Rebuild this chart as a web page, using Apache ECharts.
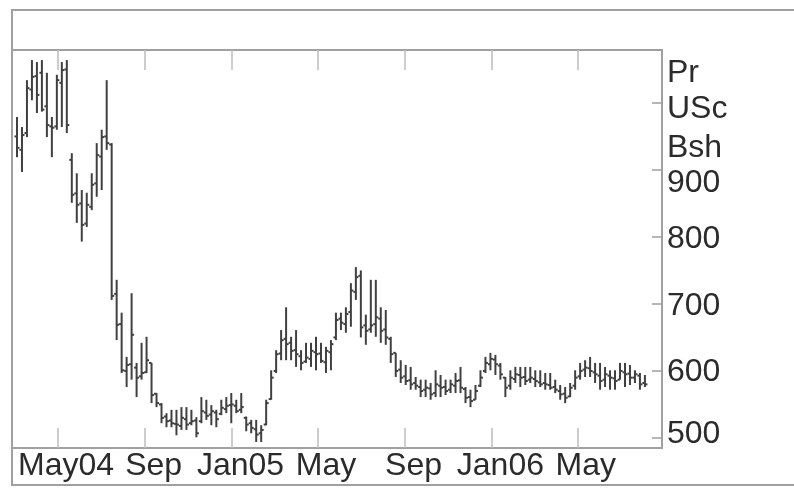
<!DOCTYPE html>
<html>
<head>
<meta charset="utf-8">
<script src="https://cdn.jsdelivr.net/npm/echarts@6/dist/echarts.min.js"></script>
<style>
  html, body { margin: 0; padding: 0; background: #fff; }
  #main { width: 794px; height: 489px; }
</style>
</head>
<body>
<div id="main"></div>
<script>
// weekly bars, first week ending 2004-03-05
var firstWeek = [2004, 2, 5];
var openP = [
  950,930,955,1020,1040,1045,995,965,965,1030,
  1050,915,865,850,820,845,880,920,950,938,
  715,670,600,610,605,592,598,612,566,550,
  532,526,521,518,528,522,526,525,538,535,
  538,536,543,549,548,542,530,522,513,507,
  520,558,600,626,648,642,631,622,614,618,
  628,626,613,628,650,678,670,688,718,742,
  668,662,670,678,662,648,627,602,592,586,
  582,576,572,574,567,578,576,572,578,586,
  573,561,557,578,600,610,617,608,590,578,
  588,594,591,587,588,583,582,579,576,570,
  566,562,578,592,602,604,598,593,587,593,
  589,587,598,596,590,593,582
];
var highP = [
  979,964,1034,1064,1061,1064,1045,979,1042,1061,
  1064,925,895,870,866,895,940,960,1034,940,
  736,687,621,716,612,642,651,612,567,552,
  537,542,542,546,546,542,531,561,557,549,
  542,557,561,567,557,567,532,527,527,519,
  557,601,631,661,695,651,661,631,642,642,
  651,642,636,646,687,687,695,731,755,750,
  684,736,736,695,691,651,627,616,609,606,
  591,587,587,582,601,594,587,587,597,606,
  576,572,579,601,621,627,624,612,591,601,
  606,606,606,606,601,601,597,597,587,579,
  576,582,601,612,616,621,612,612,606,601,
  601,612,612,609,601,597,594
];
var lowP = [
  919,897,949,1004,985,987,949,919,960,964,
  955,851,821,793,815,840,860,870,930,706,
  646,597,576,587,561,587,597,552,546,522,
  516,516,504,512,512,519,501,522,527,519,
  516,534,537,522,537,537,510,507,494,494,
  519,557,597,616,616,616,606,601,612,606,
  601,612,597,601,646,661,657,666,706,650,
  639,657,651,642,639,612,591,582,579,572,
  572,561,561,557,561,561,564,567,567,567,
  552,546,557,576,597,601,594,587,561,572,
  582,576,579,582,576,576,572,572,567,557,
  552,561,572,587,591,591,582,572,576,572,
  572,587,576,579,582,572,576
];
var closeP = [
  933,952,1022,1039,1012,990,967,963,1034,1049,
  967,863,848,818,848,878,922,949,940,712,
  669,601,609,654,590,597,616,564,552,530,
  525,522,520,530,520,525,507,540,533,540,
  528,545,548,550,540,546,520,515,505,512,
  552,590,625,646,640,630,625,612,620,630,
  625,615,630,640,676,672,685,720,740,665,
  660,668,680,660,650,625,600,590,585,580,
  578,570,575,565,580,575,570,580,585,575,
  560,555,570,590,612,618,610,595,575,590,
  595,590,585,590,585,580,580,575,572,565,
  560,575,590,600,605,600,595,585,595,590,
  585,600,595,590,595,580,580
];
var monthTicks = [[2004,4,1],[2004,8,1],[2005,0,1],[2005,4,1],[2005,8,1],[2006,0,1],[2006,4,1]];
var monthLabels = ['May04','Sep','Jan05','May','Sep','Jan06','May'];
var priceTicks = [500, 600, 700, 800, 900, 1000];
var priceLabels = ['500', '600', '700', '800', '900', 'Bsh', 'USc', 'Pr'];
var priceLabelAt = [505, 598, 696, 796, 880, 932, 990, 1045];

// x axis counts days since 2004-01-01
var DAY = 86400000;
var origin = Date.UTC(2004, 0, 1);
function dayNum(d) { return Math.round((Date.UTC(d[0], d[1], d[2]) - origin) / DAY); }

var data = [];
for (var i = 0; i < closeP.length; i++) {
  data.push([dayNum(firstWeek) + i * 7, openP[i], highP[i], lowP[i], closeP[i]]);
}
var tickDays = monthTicks.map(dayNum);
var labelDays = tickDays.map(function (t) { return t + 12; });

var myChart = echarts.init(document.getElementById('main'));
var font = 'Liberation Sans, Arial, sans-serif';
var xCommon = {
  type: 'value',
  min: dayNum([2004, 1, 27]),
  max: dayNum([2006, 7, 28]),
  splitLine: { show: false },
  axisLine: { show: false },
  axisTick: {
    show: true, inside: true, length: 20,
    customValues: tickDays,
    lineStyle: { color: '#bdbdbd', width: 1.5 }
  }
};
var option = {
  backgroundColor: '#fff',
  animation: false,
  graphic: [{
    type: 'rect',
    shape: { x: 12, y: 10, width: 800, height: 475 },
    style: { fill: 'none', stroke: '#a0a0a0', lineWidth: 2 },
    z: 100
  }],
  grid: {
    left: 12, top: 50, width: 650, height: 398,
    show: true, borderColor: '#a0a0a0', borderWidth: 2
  },
  xAxis: [
    Object.assign({}, xCommon, {
      position: 'bottom',
      axisLabel: {
        show: true,
        customValues: labelDays,
        formatter: function (v) {
          var k = labelDays.indexOf(v);
          return k >= 0 ? monthLabels[k] : '';
        },
        fontFamily: font, fontSize: 32, color: '#2b2b2b', margin: 2
      }
    }),
    Object.assign({}, xCommon, {
      position: 'top',
      axisLabel: { show: false }
    })
  ],
  yAxis: {
    type: 'value',
    position: 'right',
    min: 485,
    max: 1079,
    splitLine: { show: false },
    axisLine: { show: false },
    axisTick: {
      show: true, inside: true, length: 10,
      customValues: priceTicks,
      lineStyle: { color: '#a0a0a0', width: 1.5 }
    },
    axisLabel: {
      customValues: priceLabelAt,
      formatter: function (v) {
        var k = priceLabelAt.indexOf(v);
        return k >= 0 ? priceLabels[k] : '';
      },
      fontFamily: font, fontSize: 32, color: '#2b2b2b', margin: 5
    }
  },
  series: [{
    type: 'custom',
    xAxisIndex: 0,
    data: data,
    encode: { x: 0, y: [1, 2, 3, 4] },
    renderItem: function (params, api) {
      var t = api.value(0);
      var o = api.coord([t, api.value(1)]);
      var h = api.coord([t, api.value(2)]);
      var l = api.coord([t, api.value(3)]);
      var c = api.coord([t, api.value(4)]);
      var w = 2.5;
      var st = { stroke: '#404040', lineWidth: 2 };
      return {
        type: 'group',
        children: [
          { type: 'line', shape: { x1: h[0], y1: h[1], x2: l[0], y2: l[1] }, style: st },
          { type: 'line', shape: { x1: o[0] - w, y1: o[1], x2: o[0], y2: o[1] }, style: st },
          { type: 'line', shape: { x1: c[0], y1: c[1], x2: c[0] + w, y2: c[1] }, style: st }
        ]
      };
    }
  }]
};
myChart.setOption(option);
</script>
</body>
</html>
